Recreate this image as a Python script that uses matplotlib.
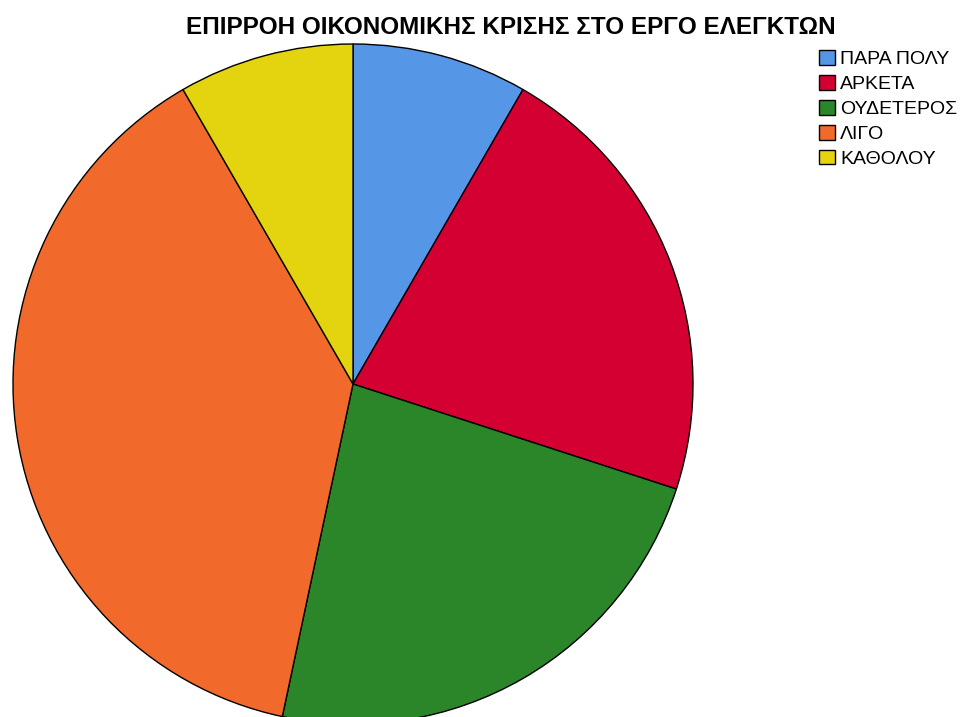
import matplotlib.pyplot as plt
from matplotlib.patches import Patch

plt.rcParams['font.family'] = ['Liberation Sans', 'DejaVu Sans']

# responses (counts) per answer category
labels = ['ΠΑΡΑ ΠΟΛΥ', 'ΑΡΚΕΤΑ', 'ΟΥΔΕΤΕΡΟΣ', 'ΛΙΓΟ', 'ΚΑΘΟΛΟΥ']
counts = [5, 13, 14, 23, 5]
colors = ['#5596E6', '#D50032', '#2A8629', '#F26A2B', '#E3D40F']

W, H = 963, 717
fig = plt.figure(figsize=(W / 100, H / 100), dpi=100)
ax = fig.add_axes([0, 0, 1, 1])

ax.pie(counts, colors=colors, startangle=90, counterclock=False,
       radius=1.0, wedgeprops=dict(edgecolor='black', linewidth=1.0))

# place the pie: centre at (353, 384) px, radius 340 px
cx, cy, r = 353, 384, 340
ax.set_aspect('auto')
ax.set_xlim(-cx / r, (W - cx) / r)
ax.set_ylim(-(H - cy) / r, cy / r)
ax.axis('off')

fig.text(511 / W, 1 - 27 / H, 'ΕΠΙΡΡΟΗ ΟΙΚΟΝΟΜΙΚΗΣ ΚΡΙΣΗΣ ΣΤΟ ΕΡΓΟ ΕΛΕΓΚΤΩΝ',
         ha='center', va='center', fontsize=17.5, fontweight='bold')

handles = [Patch(facecolor=c, edgecolor='black', linewidth=1.0) for c in colors]
fig.legend(handles, labels, loc='upper left', bbox_to_anchor=(819 / W, 1 - 50 / H),
           frameon=False, fontsize=14, handlelength=0.8, handleheight=0.8,
           handletextpad=0.3, labelspacing=0.345, borderpad=0, borderaxespad=0)

fig.savefig('out.png', dpi=100)
